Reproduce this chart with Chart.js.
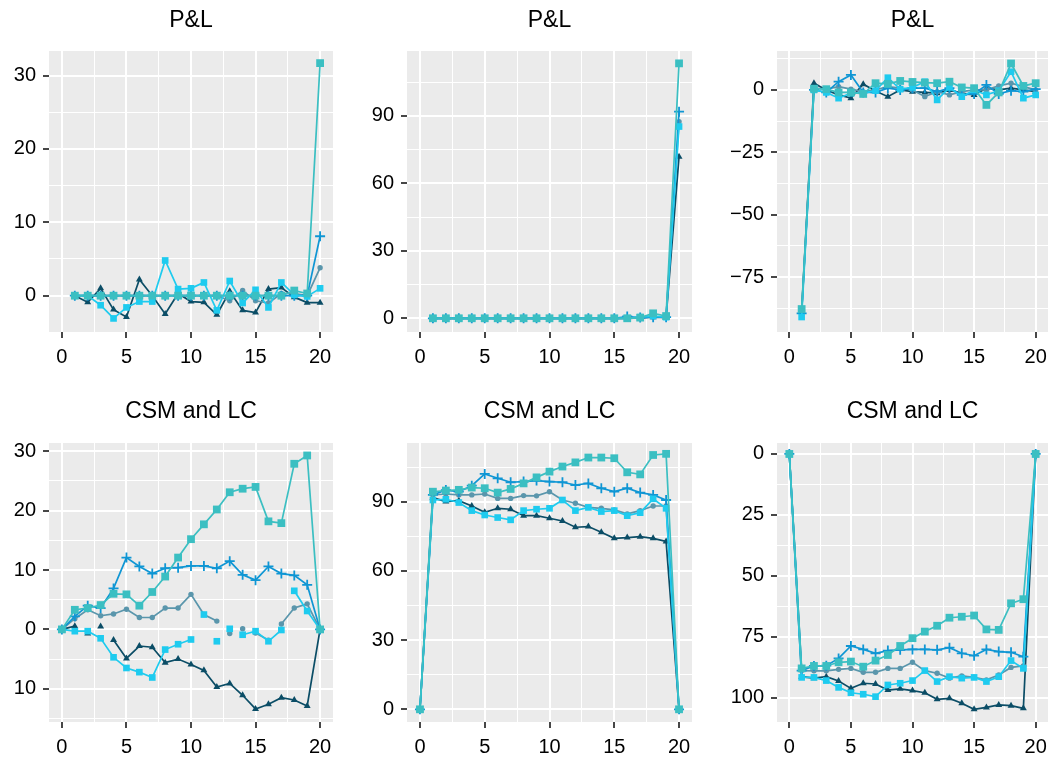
<!DOCTYPE html>
<html><head><meta charset="utf-8">
<script src="https://cdn.jsdelivr.net/npm/chart.js@4.4.1/dist/chart.umd.min.js"></script>
<style>
html,body{margin:0;padding:0;background:#fff;}
#wrap{position:relative;width:1056px;height:759px;overflow:hidden;}
.p{position:absolute;}
</style></head><body><div id="wrap"></div>
<script>
// ---------- data ----------
const periods = [0,1,2,3,4,5,6,7,8,9,10,11,12,13,14,15,16,17,18,19,20];
const xTicksMajor = [0,5,10,15,20];
const xTicksMinor = [2.5,7.5,12.5,17.5];

const seriesNames = ['teal','cyan','blue','steel','navy'];

// P&L, panel 1
const pl1Teal  = [null,0,0,0,0,0,0,0,0,0,0,0,0,0,0,0,0,0,0.7,0.3,31.7];
const pl1Cyan  = [null,0,0,-1.3,-3.1,-1.6,-0.8,-0.8,4.8,0.9,1.0,1.8,-2.0,2.0,-1.0,0.8,-1.6,1.8,0.1,-0.1,1.0];
const pl1Blue  = [null,0,0,0,0,0,0,0,0,0,0,0,0,0,0,0,0,0,0,0,8.1];
const pl1Steel = [null,0,0,0,0,0,0,0,0,0,0,0,0,-0.7,0.7,-0.7,-1.0,0.3,0.3,0,3.8];
const pl1Navy  = [null,0,-0.9,1.0,-1.9,-2.9,2.2,0,-2.5,0.3,-0.8,-0.9,-2.6,0.6,-2.0,-2.3,0.9,1.1,-0.2,-0.95,-0.95];

// P&L, panel 2
const pl2Teal  = [null,0,0,0,0,0,0,0,0,0,0,0,0,0,0,0,0,0.3,2.2,1.0,113.4];
const pl2Cyan  = [null,0,0,0,0,0,0,0,0,0,0,0,0,0,0,0,0,0.5,1.0,0.5,85.3];
const pl2Blue  = [null,0,0,0,0,0,0,0,0,0,0,0,0,0,0,0,0.8,0.3,0.5,0.5,91.9];
const pl2Steel = [null,0,0,0,0,0,0,0,0,0,0,0,0,0,0,0,0,0.3,0.6,0.5,87.5];
const pl2Navy  = [null,0,0,0,0,0,0,0,0,0,0,0,0,0,0,0,0,0.2,0.5,0.3,71.9];

// P&L, panel 3
const pl3Teal  = [null,-87.8,0.5,0.3,-1,-1,-1.6,2.7,2.4,3.6,3.2,2.9,2.7,3.3,1.0,0.7,-6.0,-1.0,10.6,1.6,2.7];
const pl3Cyan  = [null,-91,0,-1,-3.3,-1.3,-1.3,-0.3,4.9,0.3,1.0,3.3,-4.0,1.0,-2.7,0,-2.0,-0.3,7.3,-3.3,-2.0];
const pl3Blue  = [null,-89.5,0,-1,3.3,6.0,-1,-1,0.7,0,0.7,0.7,-0.7,0.7,-2.0,-1.6,2.0,-1.6,-0.3,-0.7,0.3];
const pl3Steel = [null,-89,0.7,0.3,1.3,0.3,-0.7,0,1.3,0.7,0,-2.7,-0.7,-2.0,-0.7,0,0,1.6,2.7,1.3,0];
const pl3Navy  = [null,-89,2.7,0,-2,-3.3,2.3,-0.4,-2.7,0,-0.7,-1,-1.3,0,-1.3,-2,0.7,0,0.7,0,-0.7];

// CSM and LC, panel 4
const csm1Teal  = [0,3.3,3.6,4.1,6.0,5.9,4.0,6.3,8.9,12.1,15.2,17.7,20.2,23.1,23.7,24.0,18.2,17.9,27.9,29.3,0];
const csm1Cyan  = [0,-0.3,-0.3,-1.5,-4.7,-6.5,-7.2,-8.1,-3.4,-2.5,-1.7,2.5,-2.0,0.1,-0.9,-0.3,-2.0,-0.1,6.5,3.1,0];
const csm1Blue  = [0,2.2,4.0,3.6,6.9,12.1,10.6,9.4,10.3,10.4,10.7,10.7,10.3,11.5,9.2,8.3,10.6,9.4,9.1,7.5,0];
const csm1Steel = [0,1.8,3.3,2.3,2.6,3.4,2.0,2.0,3.6,3.6,5.9,2.5,1.4,-0.7,0.1,-0.6,-1.8,0.9,3.6,4.3,0];
const csm1Navy  = [0,0.55,-0.7,0.5,-1.8,-4.9,-2.8,-3.0,-5.6,-5.0,-5.9,-6.9,-9.7,-9.1,-11.1,-13.4,-12.6,-11.5,-11.9,-12.9,0];

// CSM and LC, panel 5
const csm2Teal  = [0,94.3,94.8,95.1,96.1,95.8,93.9,95.5,97.9,100.5,103,105.2,107,109.1,109.1,108.8,102.7,101.8,110.2,110.7,0];
const csm2Cyan  = [0,90.7,91,89.6,86.1,84.2,83.1,82.1,86.1,86.7,87.1,90.7,86.1,87.5,85.7,86.1,83.9,85.2,91.2,87.1,0];
const csm2Blue  = [0,92.9,95,94.3,96.9,102,100.1,98.4,98.7,99.1,98.7,98.4,97.2,97.9,95.8,94.3,95.8,93.9,92.9,90.7,0];
const csm2Steel = [0,92.9,93.3,92.9,92.9,93.3,91.4,91.4,92.6,92.5,94.3,90.7,89.3,87.5,87.1,86.4,84.7,86.1,88.1,88.1,0];
const csm2Navy  = [0,91.7,90,90.4,88.1,85.4,87.1,86.7,83.9,83.9,82.8,81.6,78.9,79.2,76.7,74.1,74.4,74.8,74.1,72.7,0];

// CSM and LC, panel 6
const csm3Teal  = [0,-88,-87,-87,-85.5,-85.2,-87.3,-84.8,-82.5,-78.8,-75.6,-72.9,-70.5,-67.2,-66.8,-66.3,-72,-72.2,-61.3,-59.6,0];
const csm3Cyan  = [0,-91.7,-91.7,-93,-95.8,-98,-98.6,-99.6,-94.8,-94.1,-93,-88.9,-93.4,-91.4,-92,-91.7,-93.4,-91.4,-84.8,-88,0];
const csm3Blue  = [0,-88.9,-87,-86.9,-83.9,-78.8,-80.2,-81.8,-80.7,-80.4,-80.2,-80.2,-80.4,-79.5,-81.8,-82.8,-80.2,-81.1,-81.4,-83.2,0];
const csm3Steel = [0,-88.9,-89,-89,-88.4,-88,-89.6,-89.6,-88,-88,-85.5,-88.9,-90,-92,-91.1,-91.7,-92.7,-90.7,-87.6,-87,0];
const csm3Navy  = [0,-91.4,-92,-91.4,-93.2,-96.2,-94.1,-94.4,-96.9,-96.4,-97.1,-98,-100.7,-100.3,-102.3,-104.8,-104,-103,-103.3,-104.4,0];

// y tick labels
const yMajor1 = [0,10,20,30],          yMinor1 = [5,15,25];
const yMajor2 = [0,30,60,90],          yMinor2 = [15,45,75,105];
const yMajor3 = [-75,-50,-25,0],       yMinor3 = [-87.5,-62.5,-37.5,-12.5,12.5];
const yMajor4 = [-10,0,10,20,30],      yMinor4 = [-15,-5,5,15,25];
const yMajor5 = [0,30,60,90],          yMinor5 = [15,45,75,105];
const yMajor6 = [-100,-75,-50,-25,0],  yMinor6 = [-87.5,-62.5,-37.5,-12.5];

// ---------- styles ----------
const FONT = "'Liberation Sans', Arial, Helvetica, sans-serif";
const styles = {
  teal:  {color:'#3bbfc2', pointStyle:'rect',     radius:5.5, bw:0},
  cyan:  {color:'#1ecbef', pointStyle:'rect',     radius:4.7, bw:0},
  blue:  {color:'#0f96d4', pointStyle:'cross',    radius:5.0, bw:1.8},
  steel: {color:'#5a96ac', pointStyle:'circle',   radius:2.7, bw:0},
  navy:  {color:'#0b4d66', pointStyle:'triangle', radius:4.0, bw:0}
};

const fmtSigned = v => v < 0 ? '\u2212' + (-v) : String(v);
const fmtAbs = v => String(Math.abs(v));

const bgPlugin = {
  id:'panelbg',
  beforeDraw(chart){
    const a = chart.chartArea, c = chart.ctx;
    c.save(); c.fillStyle = '#ebebeb';
    c.fillRect(a.left, a.top, a.right - a.left, a.bottom - a.top);
    c.restore();
  }
};

function axisOpts(major, minor, min, max, fmt, fitFn, pad) {
  const majSet = new Set(major);
  return {
    type:'linear', min:min, max:max,
    afterBuildTicks: ax => { ax.ticks = major.concat(minor).sort((a,b)=>a-b).map(v=>({value:v})); },
    afterFit: fitFn,
    border:{display:false},
    grid:{
      color:'#ffffff',
      lineWidth: ctx => (ctx.tick && majSet.has(ctx.tick.value)) ? 2.0 : 1.0,
      drawTicks:true, tickLength:6,
      tickColor: ctx => (ctx.tick && majSet.has(ctx.tick.value)) ? '#333333' : 'rgba(0,0,0,0)',
      tickWidth: 1.8
    },
    ticks:{
      autoSkip:false, maxRotation:0, padding:pad,
      color:'#000000', font:{family:FONT, size:20},
      callback: v => majSet.has(v) ? fmt(v) : ''
    }
  };
}

const wrap = document.getElementById('wrap');

function makePanel(p) {
  const div = document.createElement('div');
  div.className = 'p';
  div.style.left = p.box[0] + 'px'; div.style.top = p.box[1] + 'px';
  div.style.width = p.box[2] + 'px'; div.style.height = p.box[3] + 'px';
  const cv = document.createElement('canvas');
  cv.width = p.box[2]; cv.height = p.box[3];
  cv.style.width = p.box[2] + 'px'; cv.style.height = p.box[3] + 'px';
  div.appendChild(cv); wrap.appendChild(div);

  const datasets = seriesNames.map(name => {
    const s = styles[name];
    const vals = p.series[name];
    const ds = {
      label: name,
      data: periods.map((x,i) => ({x:x, y:vals[i]})).filter(d => d.y !== null),
      borderColor: s.color, backgroundColor: s.color,
      pointBackgroundColor: s.color, pointBorderColor: s.color,
      pointStyle: s.pointStyle, pointRadius: s.radius, pointBorderWidth: s.bw,
      borderWidth: 1.7, tension: 0, fill: false
    };
    if (p.breakOnSign) {
      ds.segment = { borderColor: ctx => (ctx.p0.parsed.y * ctx.p1.parsed.y < 0) ? 'rgba(0,0,0,0)' : undefined };
    }
    return ds;
  });

  new Chart(cv, {
    type:'line',
    data:{datasets},
    plugins:[bgPlugin],
    options:{
      responsive:false, animation:false, events:[],
      layout:{padding:{left:0, right:p.padR, top:0, bottom:0}},
      plugins:{
        legend:{display:false}, tooltip:{enabled:false},
        title:{display:true, text:p.title, fullSize:false, color:'#000',
               font:{family:FONT, size:23, weight:'normal'},
               padding:{top:p.titleTop, bottom:p.titleBottom}}
      },
      scales:{
        x: axisOpts(xTicksMajor, xTicksMinor, -1, 21, fmtSigned, s => { s.height = p.xh; }, 7),
        y: axisOpts(p.yMajor, p.yMinor, p.yMin, p.yMax, p.fmt, s => { s.width = p.yw; }, 7)
      }
    }
  });
}

const row1 = {titleTop:7.0, titleBottom:16.4, xh:48};
const row2 = {titleTop:17.8, titleBottom:17.6, xh:37};

makePanel(Object.assign({box:[0,0,350,380], yw:49, padR:17, title:'P&L', fmt:fmtSigned,
  yMajor:yMajor1, yMinor:yMinor1, yMin:-4.95, yMax:33.35,
  series:{teal:pl1Teal, cyan:pl1Cyan, blue:pl1Blue, steel:pl1Steel, navy:pl1Navy}}, row1));
makePanel(Object.assign({box:[350,0,355,380], yw:57, padR:13, title:'P&L', fmt:fmtSigned,
  yMajor:yMajor2, yMinor:yMinor2, yMin:-6.1, yMax:118.9,
  series:{teal:pl2Teal, cyan:pl2Cyan, blue:pl2Blue, steel:pl2Steel, navy:pl2Navy}}, row1));
makePanel(Object.assign({box:[705,0,351,380], yw:72, padR:8, title:'P&L', fmt:fmtSigned,
  yMajor:yMajor3, yMinor:yMinor3, yMin:-97.0, yMax:15.6,
  series:{teal:pl3Teal, cyan:pl3Cyan, blue:pl3Blue, steel:pl3Steel, navy:pl3Navy}}, row1));
makePanel(Object.assign({box:[0,380,350,379], yw:49, padR:17, title:'CSM and LC', fmt:fmtAbs, breakOnSign:true,
  yMajor:yMajor4, yMinor:yMinor4, yMin:-15.6, yMax:31.4,
  series:{teal:csm1Teal, cyan:csm1Cyan, blue:csm1Blue, steel:csm1Steel, navy:csm1Navy}}, row2));
makePanel(Object.assign({box:[350,380,355,379], yw:57, padR:13, title:'CSM and LC', fmt:fmtAbs,
  yMajor:yMajor5, yMinor:yMinor5, yMin:-5.5, yMax:115.4,
  series:{teal:csm2Teal, cyan:csm2Cyan, blue:csm2Blue, steel:csm2Steel, navy:csm2Navy}}, row2));
makePanel(Object.assign({box:[705,380,351,379], yw:72, padR:8, title:'CSM and LC', fmt:fmtAbs,
  yMajor:yMajor6, yMinor:yMinor6, yMin:-110, yMax:4.5,
  series:{teal:csm3Teal, cyan:csm3Cyan, blue:csm3Blue, steel:csm3Steel, navy:csm3Navy}}, row2));
</script>
</body></html>
